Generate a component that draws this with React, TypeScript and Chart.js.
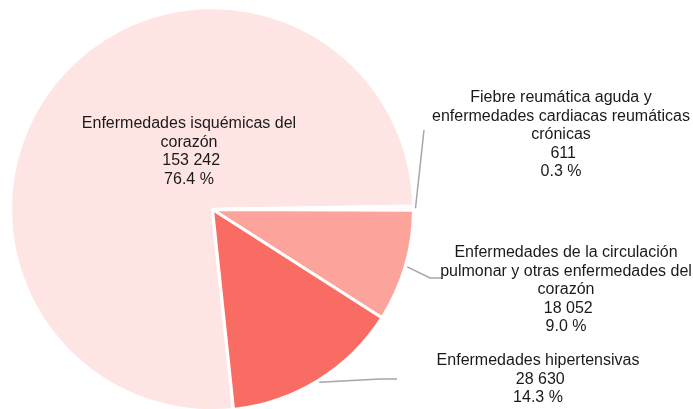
import React, { useEffect, useRef } from 'react';
import { Chart, registerables } from 'chart.js';

Chart.register(...registerables);

const categories = [
  'Enfermedades isquémicas del corazón',
  'Fiebre reumática aguda y enfermedades cardiacas reumáticas crónicas',
  'Enfermedades de la circulación pulmonar y otras enfermedades del corazón',
  'Enfermedades hipertensivas',
];
const labelLines = [
  ['Enfermedades isquémicas del', 'corazón'],
  ['Fiebre reumática aguda y', 'enfermedades cardiacas reumáticas', 'crónicas'],
  ['Enfermedades de la circulación', 'pulmonar y otras enfermedades del', 'corazón'],
  ['Enfermedades hipertensivas'],
];
const values = [153242, 611, 18052, 28630];
const valueLabels = ['153 242', '611', '18 052', '28 630'];
const percentLabels = ['76.4 %', '0.3 %', '9.0 %', '14.3 %'];
const colors = ['#FFE4E4', '#FFF0F0', '#FCA49C', '#F96C63'];

// label layout (text block anchors: centre x, first line centre y)
const labelAnchors = [
  { x: 189, y: 124 },
  { x: 561, y: 98 },
  { x: 566, y: 253 },
  { x: 538, y: 361 },
];
// leader line bends/ends (null for inside label)
const leaderPoints: ({ x: number; y: number }[] | null)[] = [
  null,
  [{ x: 424, y: 130 }],
  [{ x: 430, y: 278 }, { x: 442, y: 278 }],
  [{ x: 380, y: 379 }, { x: 397, y: 379 }],
];

const labelPlugin = {
  id: 'pieLabels',
  afterDraw(chart: any) {
    const ctx = chart.ctx;
    const meta = chart.getDatasetMeta(0);
    ctx.save();
    meta.data.forEach((arc: any, i: number) => {
      const p = arc.getProps(['x', 'y', 'startAngle', 'endAngle', 'outerRadius'], true);
      const pts = leaderPoints[i];
      if (pts) {
        const mid = (p.startAngle + p.endAngle) / 2;
        const r = p.outerRadius + 2;
        ctx.beginPath();
        ctx.moveTo(p.x + Math.cos(mid) * r, p.y + Math.sin(mid) * r);
        pts.forEach((q) => ctx.lineTo(q.x, q.y));
        ctx.strokeStyle = '#A6A6A6';
        ctx.lineWidth = 1.5;
        ctx.stroke();
      }
      const lines = [...labelLines[i], ' ' + valueLabels[i], percentLabels[i]];
      ctx.fillStyle = '#1a1a1a';
      ctx.font = '16px "Liberation Sans", Arial, sans-serif';
      ctx.textAlign = 'center';
      ctx.textBaseline = 'middle';
      const a = labelAnchors[i];
      lines.forEach((t, k) => ctx.fillText(t, a.x, a.y + k * 18.4));
    });
    ctx.restore();
  },
};

export default function App() {
  const ref = useRef<HTMLCanvasElement>(null);
  useEffect(() => {
    if (!ref.current) return;
    const chart = new Chart(ref.current, {
      type: 'pie',
      data: {
        labels: categories,
        datasets: [
          {
            data: values,
            backgroundColor: colors,
            borderColor: '#FFFFFF',
            borderWidth: 3,
            offset: [2, 0, 0, 0],
          },
        ],
      },
      options: {
        responsive: false,
        animation: false,
        rotation: 174,
        layout: { padding: { left: 9, top: 6, right: 277, bottom: 7 } },
        plugins: {
          legend: { display: false },
          tooltip: { enabled: false },
        },
      },
      plugins: [labelPlugin],
    });
    return () => chart.destroy();
  }, []);
  return (
    <div style={{ position: 'fixed', left: 0, top: 0, width: 693, height: 409, overflow: 'hidden', background: '#fff' }}>
      <canvas ref={ref} width={693} height={420} style={{ width: 693, height: 420, display: 'block' }} />
    </div>
  );
}
